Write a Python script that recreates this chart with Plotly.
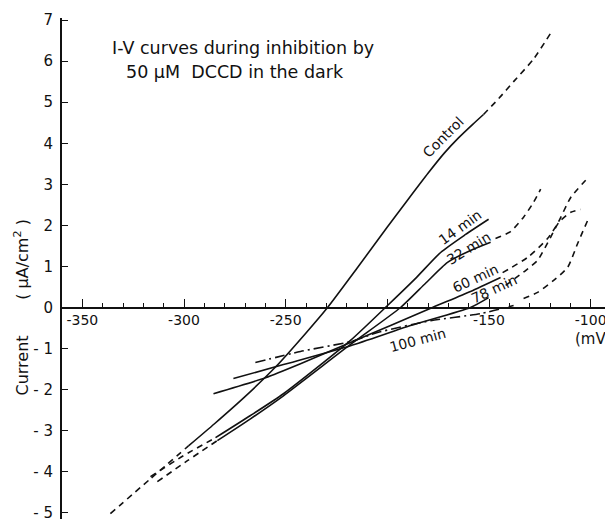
import plotly.graph_objects as go

# ---------------- data (mV, uA/cm^2) ----------------
control_lo_mv = [-336.2, -316.5, -297.8]
control_lo_i = [-5.02, -4.17, -3.37]
control_mv = [-297.8, -285.0, -270.0, -255.0, -240.0, -229.4, -215.0, -200.0, -190.0, -180.0, -172.0, -165.0, -158.0, -152.7]
control_i = [-3.37, -2.83, -2.17, -1.45, -0.62, 0.0, 0.95, 1.96, 2.62, 3.27, 3.76, 4.13, 4.46, 4.70]
control_hi_mv = [-152.7, -145.0, -137.9, -128.1, -119.7]
control_hi_i = [4.70, 5.10, 5.50, 6.05, 6.68]

m14_lo_mv = [-316.5, -300.3, -284.5]
m14_lo_i = [-4.12, -3.61, -3.17]
m14_mv = [-284.5, -267.3, -251.1, -218.1, -199.9, -186.1, -173.8, -161.5, -150.2]
m14_i = [-3.17, -2.63, -2.10, -0.80, 0.05, 0.71, 1.34, 1.78, 2.15]

m32_lo_mv = [-313.1, -298.3, -283.6]
m32_lo_i = [-4.24, -3.73, -3.24]
m32_mv = [-283.6, -267.3, -251.1, -218.1, -193.5, -181.2, -170.4, -159.1, -149.2]
m32_i = [-3.24, -2.71, -2.15, -0.90, 0.0, 0.59, 1.10, 1.39, 1.59]
m32_hi_mv = [-146.8, -139.4, -133.0, -128.1, -124.6]
m32_hi_i = [1.68, 1.85, 2.20, 2.56, 2.88]

m60_mv = [-285.5, -259.9, -242.7, -218.1, -198.4, -177.8, -159.1, -144.3]
m60_i = [-2.10, -1.71, -1.37, -0.85, -0.44, 0.0, 0.39, 0.73]
m60_hi_mv = [-143.3, -131.0, -121.2, -116.2, -109.8, -101.5]
m60_hi_i = [0.85, 1.22, 1.68, 2.05, 2.68, 3.15]

m78_mv = [-275.7, -251.1, -218.1, -188.6, -159.1, -150.2]
m78_i = [-1.73, -1.39, -0.93, -0.44, 0.0, 0.24]
m78_hi_mv = [-141.8, -132.0, -126.1, -119.7, -115.7, -109.8, -104.9]
m78_hi_i = [0.54, 0.90, 1.15, 1.71, 2.07, 2.32, 2.39]

m100_mv = [-264.9, -242.7, -218.1, -204.8, -178.7, -154.1, -137.9]
m100_i = [-1.34, -1.07, -0.83, -0.61, -0.32, -0.15, 0.05]
m100_hi_mv = [-133.0, -126.1, -118.2, -111.3, -106.4, -101.5]
m100_hi_i = [0.22, 0.37, 0.66, 0.98, 1.56, 2.12]

x_ticks = [-350, -300, -250, -200, -150, -100]
x_ticktext = ["-350", "-300", "-250", "", "-150", "-100"]
y_ticks = [-5, -4, -3, -2, -1, 0, 1, 2, 3, 4, 5, 6, 7]
y_ticktext = ["- 5", "- 4", "- 3", "- 2", "- 1", "0", "1", "2", "3", "4", "5", "6", "7"]

curve_labels = ["Control", "14 min", "32 min", "60 min", "78 min", "100 min"]
label_mv = [-172.5, -164.0, -160.0, -156.5, -147.5, -185.0]
label_i = [4.15, 1.95, 1.46, 0.72, 0.44, -0.80]
label_angle = [-45, -36, -32, -25, -25, -15]

INK = "#111111"
FONT = "DejaVu Sans"
DASH = "6px,5px"

fig = go.Figure()

def add(xs, ys, dash="solid", width=1.6):
    fig.add_trace(go.Scatter(x=xs, y=ys, mode="lines",
                             line=dict(color=INK, width=width, dash=dash, shape="spline", smoothing=0.6),
                             hoverinfo="skip", showlegend=False))

add(control_lo_mv, control_lo_i, DASH)
add(control_mv, control_i)
add(control_hi_mv, control_hi_i, DASH)
add(m14_lo_mv, m14_lo_i, DASH)
add(m14_mv, m14_i)
add(m32_lo_mv, m32_lo_i, DASH)
add(m32_mv, m32_i)
add(m32_hi_mv, m32_hi_i, DASH)
add(m60_mv, m60_i)
add(m60_hi_mv, m60_hi_i, DASH)
add(m78_mv, m78_i)
add(m78_hi_mv, m78_hi_i, DASH)
add(m100_mv, m100_i, "10px,4px,2px,4px")
add(m100_hi_mv, m100_hi_i, DASH)

annotations = []
for t, xv, yv, a in zip(curve_labels, label_mv, label_i, label_angle):
    annotations.append(dict(x=xv, y=yv, xref="x", yref="y", text=t, showarrow=False,
                            textangle=a, font=dict(family=FONT, size=14, color=INK)))

annotations += [
    dict(x=-336.2, y=6.32, xref="x", yref="y", xanchor="left", text="I-V curves during inhibition by",
         showarrow=False, font=dict(family=FONT, size=17.5, color=INK)),
    dict(x=-329.5, y=5.73, xref="x", yref="y", xanchor="left", text="50 μM  DCCD in the dark",
         showarrow=False, font=dict(family=FONT, size=17.5, color=INK)),
    dict(x=-98.5, y=-0.76, xref="x", yref="y", text="(mV)", showarrow=False,
         font=dict(family=FONT, size=15, color=INK)),
    dict(x=-0.0729, y=0.0, xref="paper", yref="y", xanchor="center", yanchor="middle",
         text="Current&nbsp;&nbsp;&nbsp;&nbsp;&nbsp;&nbsp;&nbsp;( μA/cm<sup>2</sup> )",
         showarrow=False, textangle=-90, font=dict(family=FONT, size=16, color=INK)),
]

# the page body adds an 8px offset; margins compensate so the plot area sits at (62, 18)
fig.update_layout(
    width=605, height=530,
    margin=dict(l=54, r=2, t=10, b=19, autoexpand=False),
    paper_bgcolor="white", plot_bgcolor="white",
    annotations=annotations,
    xaxis=dict(range=[-360, -90], anchor="free", position=(0 + 5.15) / 12.2, automargin=False,
               showline=True, linecolor=INK, linewidth=1.5,
               showgrid=False, zeroline=False,
               tickvals=x_ticks, ticktext=x_ticktext, ticks="inside", ticklen=8, tickwidth=1.3,
               tickcolor=INK,
               minor=dict(dtick=10, tick0=-350, ticks="inside", ticklen=4, tickwidth=1, tickcolor=INK),
               tickfont=dict(family=FONT, size=14, color=INK)),
    yaxis=dict(range=[-5.15, 7.05], automargin=False, showline=True, linecolor=INK, linewidth=1.8,
               showgrid=False, zeroline=False,
               tickvals=y_ticks, ticktext=y_ticktext, ticks="inside", ticklen=6, tickwidth=1.3,
               tickcolor=INK, ticklabelstandoff=4,
               tickfont=dict(family=FONT, size=15, color=INK)),
)

fig.write_html("out.html")
